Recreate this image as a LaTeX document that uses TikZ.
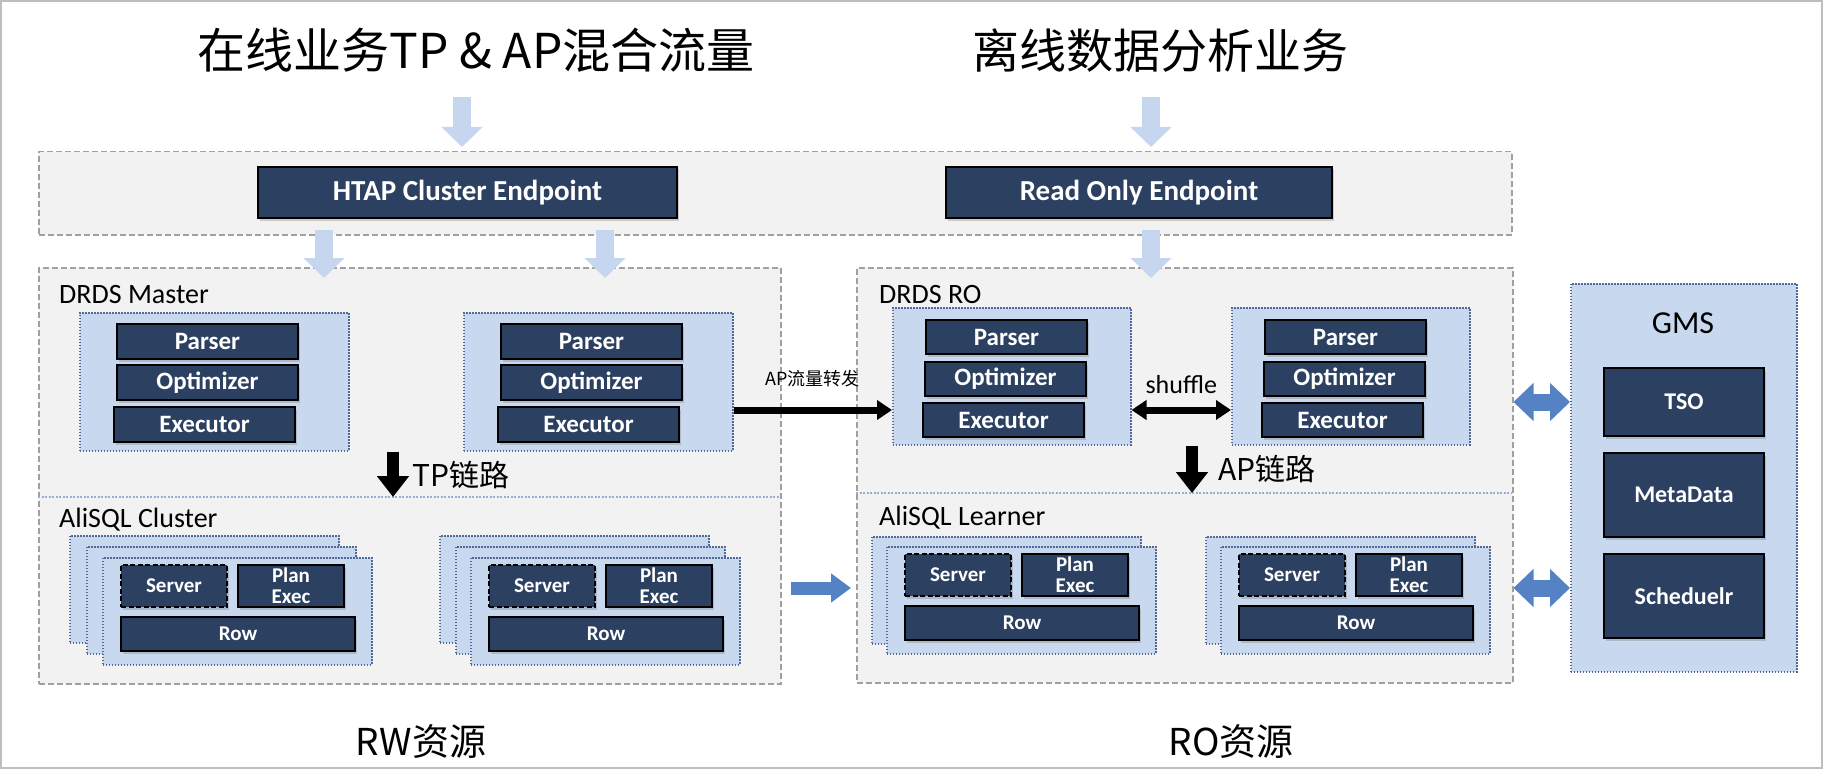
\documentclass[tikz,border=0pt]{standalone}
\usepackage{fontspec}
\setmainfont{Carlito}
\newfontfamily\cjk{Noto Sans CJK SC}
\usetikzlibrary{arrows.meta,shadows}
\definecolor{boxnavy}{RGB}{44,64,97}
\definecolor{paleblue}{RGB}{200,216,238}
\definecolor{dotblue}{RGB}{80,105,150}
\definecolor{divblue}{RGB}{150,175,210}
\definecolor{zonegray}{RGB}{242,242,242}
\definecolor{dashgray}{RGB}{160,160,160}
\definecolor{arrowpale}{RGB}{197,214,238}
\definecolor{arrowblue}{RGB}{84,130,196}
\definecolor{framegray}{RGB}{190,190,190}
\begin{document}
\begin{tikzpicture}[x=1pt,y=-1pt,
	zone/.style={draw=dashgray,fill=zonegray,line width=1.5pt,dash pattern=on 6pt off 3pt,anchor=north west,inner sep=0pt},
	grp/.style={draw=dotblue,fill=paleblue,line width=1.5pt,dash pattern=on 1.5pt off 1.5pt,anchor=north west,inner sep=0pt},
	layer/.style={grp,minimum width=269,minimum height=107},
	dbox/.style={draw=black,fill=boxnavy,line width=2pt,text=white,anchor=north west,inner sep=0pt,align=center,font=\bfseries\fontsize{25}{27}\selectfont,drop shadow={shadow xshift=1.5pt,shadow yshift=-2.5pt,opacity=.35}},
	epbox/.style={dbox,minimum height=51,font=\bfseries\fontsize{29}{31}\selectfont},
	stage/.style={dbox,minimum width=181,minimum height=35},
	rstage/.style={dbox,minimum width=161,minimum height=34},
	cell/.style={dbox,minimum width=106,minimum height=42,font=\bfseries\fontsize{21}{21}\selectfont},
	srv/.style={cell,dash pattern=on 5pt off 2.5pt},
	rowbox/.style={dbox,minimum width=234,minimum height=34,font=\bfseries\fontsize{21}{21}\selectfont},
	gmsbox/.style={dbox,minimum width=160,font=\bfseries\fontsize{24}{26}\selectfont},
	zlabel/.style={anchor=base west,inner sep=0pt,font=\fontsize{28}{30}\selectfont},
	title/.style={anchor=base,inner sep=0pt,font=\cjk\fontsize{47}{50}\selectfont},
	cn/.style={anchor=base west,inner sep=0pt,font=\cjk\fontsize{30}{32}\selectfont},
	divider/.style={draw=divblue,line width=1.2pt,dash pattern=on 2pt off 1.5pt},
	pale/.style={draw=arrowpale,line width=18pt,-{Triangle[length=20pt,width=40pt]}},
	bigflow/.style={draw=black,line width=12pt,-{Triangle[length=21pt,width=31pt]}},
	flow/.style={draw=black,line width=7pt,-{Triangle[length=15pt,width=19pt]}},
	flowboth/.style={flow,{Triangle[length=15pt,width=19pt]}-{Triangle[length=15pt,width=19pt]}},
	sync/.style={draw=arrowblue,line width=13pt,-{Triangle[length=20pt,width=28pt]}},
	gmsarrow/.style={draw=arrowblue,line width=17pt,{Triangle[length=20pt,width=37pt]}-{Triangle[length=20pt,width=37pt]}}
	]
	\useasboundingbox (0,0) rectangle (1825,770);
	\draw[framegray,line width=1.5pt] (1,1) rectangle (1822,768);
	% titles
	\node[title,font=\cjk\fontsize{48}{50}\selectfont] (ttl1) at (476,69) {在线业务TP \& AP混合流量};
	\node[title] (ttl2) at (1160,69) {离线数据分析业务};
	% endpoints
	\node[zone,minimum width=1473,minimum height=83] (band) at (38,151) {};
	\node[epbox,minimum width=419] (htap) at (257,166) {HTAP Cluster Endpoint};
	\node[epbox,minimum width=386] (roep) at (945,166) {Read Only Endpoint};
	% RW side
	\node[zone,minimum width=742,minimum height=416] (drdsm) at (38,267) {};
	\draw[divider] (38,497) -- (780,497);
	\node[zlabel] (lblm) at (59,303) {DRDS Master};
	\node[zlabel] (lblc) at (59,527) {AliSQL Cluster};
	\node[grp,minimum width=269,minimum height=138] (mg1) at (79,312) {};
	\node[stage] (mp1) at (116,323) {Parser};
	\node[stage] (mo1) at (116,364) {Optimizer};
	\node[stage] (me1) at (113,406) {Executor};
	\node[grp,minimum width=269,minimum height=138] (mg2) at (463,312) {};
	\node[stage] (mp2) at (500,323) {Parser};
	\node[stage] (mo2) at (500,364) {Optimizer};
	\node[stage] (me2) at (497,406) {Executor};
	\node[layer] (ml1a) at (69,535) {};
	\node[layer] (ml1b) at (86,546) {};
	\node[layer] (ml1) at (102,557) {};
	\node[srv] (ms1) at (120,564) {Server};
	\node[cell] (mx1) at (237,564) {Plan\\Exec};
	\node[rowbox] (mr1) at (120,616) {Row};
	\node[layer] (ml2a) at (439,535) {};
	\node[layer] (ml2b) at (455,546) {};
	\node[layer] (ml2) at (470,557) {};
	\node[srv] (ms2) at (488,564) {Server};
	\node[cell] (mx2) at (605,564) {Plan\\Exec};
	\node[rowbox] (mr2) at (488,616) {Row};
	% RO side
	\node[zone,minimum width=656,minimum height=415] (drdsro) at (856,267) {};
	\draw[divider] (856,493) -- (1512,493);
	\node[zlabel] (lblr) at (879,303) {DRDS RO};
	\node[zlabel] (lbll) at (879,525) {AliSQL Learner};
	\node[grp,minimum width=238,minimum height=137] (rg1) at (892,307) {};
	\node[rstage] (rp1) at (925,319) {Parser};
	\node[rstage] (ro1) at (924,361) {Optimizer};
	\node[rstage] (re1) at (922,402) {Executor};
	\node[grp,minimum width=238,minimum height=137] (rg2) at (1231,307) {};
	\node[rstage] (rp2) at (1264,319) {Parser};
	\node[rstage] (ro2) at (1263,361) {Optimizer};
	\node[rstage] (re2) at (1261,402) {Executor};
	\node[layer] (ll1a) at (871,536) {};
	\node[layer] (ll1) at (886,546) {};
	\node[srv] (ls1) at (904,553) {Server};
	\node[cell] (lx1) at (1021,553) {Plan\\Exec};
	\node[rowbox] (lr1) at (904,605) {Row};
	\node[layer] (ll2a) at (1205,536) {};
	\node[layer] (ll2) at (1220,546) {};
	\node[srv] (ls2) at (1238,553) {Server};
	\node[cell] (lx2) at (1355,553) {Plan\\Exec};
	\node[rowbox] (lr2) at (1238,605) {Row};
	% GMS
	\node[grp,minimum width=226,minimum height=388] (gms) at (1570,283) {};
	\node[anchor=base,inner sep=0pt,font=\fontsize{32}{34}\selectfont] (gmslbl) at (1683,333) {GMS};
	\node[gmsbox,minimum height=68] (tso) at (1603,367) {TSO};
	\node[gmsbox,minimum height=84] (meta) at (1603,452) {MetaData};
	\node[gmsbox,minimum height=84] (sched) at (1603,553) {Scheduelr};
	% bottom
	\node[cn,anchor=base,font=\cjk\fontsize{37}{40}\selectfont] (rw) at (421,755) {RW资源};
	\node[cn,anchor=base,font=\cjk\fontsize{37}{40}\selectfont] (rores) at (1231,755) {RO资源};
	% arrows
	\coordinate (c1) at (462,0);
	\coordinate (c2) at (1151,0);
	\coordinate (c3) at (324,0);
	\coordinate (c4) at (605,0);
	\coordinate (tpx) at (393,497);
	\coordinate (apx) at (1192,493);
	\coordinate (lane) at (0,410);
	\coordinate (sync) at (0,588);
	\draw[pale,shorten <=28pt,shorten >=4pt] (ttl1.base -| c1) -- (band.north -| c1);
	\draw[pale,shorten <=28pt,shorten >=4pt] (ttl2.base -| c2) -- (band.north -| c2);
	\draw[pale,shorten <=-6pt,shorten >=-11pt] (band.south -| c3) -- (drdsm.north -| c3);
	\draw[pale,shorten <=-6pt,shorten >=-11pt] (band.south -| c4) -- (drdsm.north -| c4);
	\draw[pale,shorten <=-6pt,shorten >=-11pt] (band.south -| c2) -- (drdsro.north -| c2);
	\draw[bigflow] (mg1.south -| tpx) -- (tpx);
	\node[cn] (tplbl) at (412,486) {TP链路};
	\draw[bigflow] (rg1.south -| apx) -- (apx);
	\node[cn] (aplbl) at (1218,480) {AP链路};
	\draw[flow] (mg2.east |- lane) -- (rg1.west |- lane) node[midway,above=20pt,inner sep=0pt,font=\cjk\fontsize{18}{20}\selectfont] {AP流量转发};
	\draw[flowboth] (rg1.east |- lane) -- (rg2.west |- lane) node[midway,above=13pt,inner sep=0pt,font=\fontsize{26}{28}\selectfont] {shuffle};
	\draw[sync,shorten <=9pt,shorten >=5pt] (drdsm.east |- sync) -- (drdsro.west |- sync);
	\draw[gmsarrow] (drdsro.east |- tso) -- (gms.west |- tso);
	\draw[gmsarrow] (drdsro.east |- sync) -- (gms.west |- sync);
\end{tikzpicture}
\end{document}
